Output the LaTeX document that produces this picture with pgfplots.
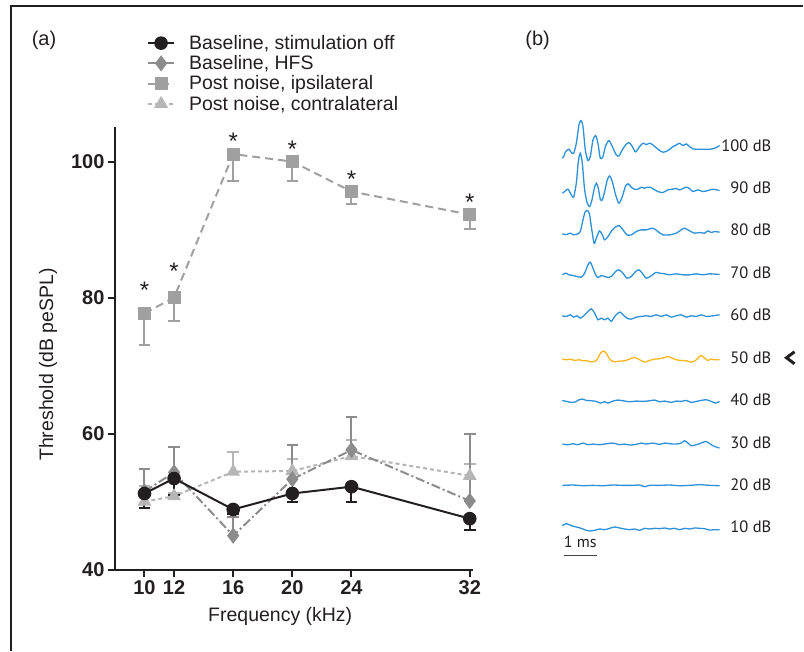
\documentclass[border=0pt]{standalone}
\usepackage{fontspec}
\setmainfont{Liberation Sans}
\newfontfamily\labfont{PT Sans}
\usepackage{pgfplots}
\usepackage{pgfplotstable}
\pgfplotsset{compat=1.18}

\definecolor{ink}{HTML}{231F20}
\definecolor{hfs}{HTML}{8C8C8C}
\definecolor{ipsi}{HTML}{A0A0A0}
\definecolor{contra}{HTML}{B6B6B6}
\definecolor{abr}{HTML}{2B91D9}
\definecolor{abrhi}{HTML}{F6B61E}

% (a) thresholds: frequency (kHz), threshold (dB peSPL), one-sided error
\pgfplotstableread{
f y e
10 51.2 2.2
12 53.4 2.4
16 48.85 0.6
20 51.2 1.2
24 52.2 2.2
32 47.5 1.6
}\baseoff
\pgfplotstableread{
f y e
10 51.5 3.3
12 54.3 3.7
16 45.0 2.8
20 53.3 5.0
24 57.6 4.8
32 50.1 9.9
}\basehfs
\pgfplotstableread{
f y e
10 77.7 4.7
12 80.0 3.4
16 101.1 3.9
20 100.0 2.9
24 95.6 1.8
32 92.2 2.1
}\postipsi
\pgfplotstableread{
f y e
10 50.0 2.3
12 50.8 0.5
16 54.4 2.9
20 54.5 1.7
24 56.7 2.3
32 53.8 1.8
}\postcontra
\pgfplotstableread{
f y
10 81.8
12 84.6
16 103.8
20 102.6
24 98.2
32 94.8
}\stars

% (b) ABR traces, read off in panel units (x right, y down)
\pgfplotstableread{
X Y
68 175
72 170
78 155
88 148
95 158
102 160
110 130
118 75
124 62
130 80
137 150
145 182
152 170
160 120
168 107
175 130
182 175
190 170
198 138
208 122
218 140
230 165
238 168
248 150
258 135
268 128
278 140
288 156
300 140
310 130
320 134
330 130
340 135
355 148
370 157
385 152
400 140
410 135
420 130
430 137
440 132
450 140
460 147
480 148
510 148
525 145
540 137
}\trA
\pgfplotstableread{
X Y
68 280
75 275
85 268
95 285
102 292
110 250
116 185
122 160
128 190
135 270
143 310
150 320
157 300
164 265
170 250
176 265
182 298
188 300
195 275
203 240
210 228
218 245
228 285
238 310
248 290
258 258
266 252
275 262
285 268
295 268
305 262
315 265
322 262
332 262
342 268
355 275
370 278
385 270
398 268
410 266
420 270
430 266
440 262
450 266
460 275
475 270
490 275
505 272
520 268
540 272
}\trB
\pgfplotstableread{
X Y
68 402
80 404
92 400
102 405
112 403
122 395
130 360
137 335
145 333
150 345
155 380
162 425
165 430
172 410
180 393
188 405
195 420
205 410
218 390
230 380
240 378
250 390
262 405
275 405
290 395
305 390
320 390
340 385
355 395
370 405
390 405
410 400
425 390
435 385
450 393
465 400
480 398
495 400
505 393
515 398
525 395
540 397
}\trC
\pgfplotstableread{
X Y
68 525
78 520
88 525
100 527
112 530
125 532
135 520
145 495
152 487
160 505
168 525
175 533
185 527
195 530
205 533
215 530
228 515
238 510
250 520
262 535
275 530
288 515
298 510
308 520
320 535
335 528
348 518
360 520
375 522
390 525
410 522
430 525
450 525
470 522
490 525
510 522
540 524
}\trD
\pgfplotstableread{
X Y
68 648
80 650
92 645
102 652
112 648
122 655
132 648
145 635
155 627
165 640
175 660
185 655
195 660
205 655
215 665
225 650
235 640
242 637
250 645
262 655
275 658
290 652
305 650
320 648
335 650
350 645
365 650
380 645
395 652
410 648
425 645
440 652
455 648
470 650
485 645
500 650
520 648
540 645
}\trE
\pgfplotstableread{
X Y
68 88
80 90
92 88
105 92
118 90
130 93
140 92
150 96
165 95
172 90
178 78
185 67
192 64
200 70
208 85
215 93
225 96
240 94
255 93
270 88
285 83
300 90
315 97
330 92
345 88
360 87
375 83
385 80
395 84
410 90
425 92
440 93
455 97
468 92
478 82
485 77
495 85
505 92
515 88
525 90
540 90
}\trF
\pgfplotstableread{
X Y
68 212
80 215
95 218
108 216
118 210
128 208
140 212
155 213
170 215
182 220
195 216
205 220
220 214
235 211
250 213
270 216
290 214
310 215
330 213
345 211
360 216
375 214
395 218
410 214
425 215
440 212
455 218
470 215
485 212
500 210
515 215
528 220
540 215
}\trG
\pgfplotstableread{
X Y
68 343
85 345
100 342
115 345
130 340
145 345
160 343
180 345
200 342
220 340
240 345
255 343
270 346
290 344
305 340
320 343
340 340
360 344
375 340
390 342
410 343
425 340
435 333
445 340
455 348
470 345
485 340
498 335
508 340
520 348
530 352
540 355
}\trH
\pgfplotstableread{
X Y
68 467
100 466
130 468
160 467
190 468
220 466
250 467
280 467
300 466
315 471
330 467
360 467
390 466
420 468
450 467
480 465
510 467
540 468
}\trI
\pgfplotstableread{
X Y
68 588
80 582
95 588
110 592
125 596
140 602
150 604
165 602
180 598
195 600
210 596
225 592
240 595
255 598
270 600
285 598
300 602
315 596
330 598
345 596
360 597
375 595
390 598
405 596
420 600
435 596
450 598
465 595
480 596
495 597
510 601
525 600
540 600
}\trJ

\pgfplotsset{
  trace/.style={line width=1.3pt, smooth, tension=0.45},
}

\begin{document}
\begin{tikzpicture}
\path (0pt,0pt) rectangle (804pt,651pt);
\draw[ink, line width=2pt] (803.5pt,644.5pt) -- (11pt,644.5pt) -- (11pt,0pt);

\node[ink, font=\fontsize{20}{24}\selectfont] at (44pt,611pt) {(a)};
\node[ink, font=\fontsize{20}{24}\selectfont] at (538pt,611pt) {(b)};

\begin{axis}[
  at={(115pt,81pt)}, anchor=south west,
  scale only axis, width=358pt, height=443pt,
  xmin=8, xmax=32.2, ymin=40, ymax=105.1,
  axis x line*=bottom, axis y line*=left,
  axis line style={ink, line width=2pt},
  xtick={10,12,16,20,24,32}, ytick={40,60,80,100},
  tick align=outside, major tick length=7pt,
  tick style={ink, line width=2pt},
  ticklabel style={font=\fontsize{20}{24}\selectfont\bfseries, text=ink},
  /pgf/number format/assume math mode=true,
  xlabel={Frequency (kHz)}, ylabel={Threshold (dB peSPL)},
  every axis x label/.style={at={(axis description cs:0.462,-0.106)}, anchor=center,
    font=\fontsize{19.5}{23}\selectfont, text=ink},
  every axis y label/.style={at={(axis description cs:-0.187,0.4636)}, anchor=center, rotate=90,
    font=\fontsize{19.5}{23}\selectfont, text=ink},
  clip=false,
  reverse legend,
  legend style={at={(axis description cs:0.0894,1.2073)}, anchor=north west,
    draw=none, fill=none, inner sep=0pt, row sep=4.6pt, column sep=14pt,
    font=\fontsize{19.5}{23}\selectfont, text=ink,
    nodes={inner sep=0pt}},
  legend cell align=left,
  legend image code/.code={\draw[mark repeat=2, mark phase=2, #1] plot coordinates {(0pt,0pt) (13pt,0pt) (26pt,0pt)};},
  error bars/error bar style={solid, line width=2pt},
  error bars/error mark options={solid, rotate=90, mark size=5.8pt, line width=2pt},
]
\addplot[contra, line width=2pt, dash pattern=on 4pt off 3pt,
  mark=triangle*, mark size=6pt, mark options={solid, fill=contra},
  error bars/.cd, y dir=plus, y explicit]
  table[x=f, y=y, y error=e] {\postcontra};
\addlegendentry{Post noise, contralateral}
\addplot[ipsi, line width=2pt, dash pattern=on 8pt off 5pt,
  mark=square*, mark size=5.5pt, mark options={solid, fill=ipsi},
  error bars/.cd, y dir=minus, y explicit]
  table[x=f, y=y, y error=e] {\postipsi};
\addlegendentry{Post noise, ipsilateral}
\addplot[hfs, line width=2pt, dash pattern=on 9pt off 3pt on 2pt off 3pt,
  mark=diamond*, mark size=6.5pt, mark options={solid, fill=hfs},
  error bars/.cd, y dir=plus, y explicit]
  table[x=f, y=y, y error=e] {\basehfs};
\addlegendentry{Baseline, HFS}
\addplot[ink, line width=2pt,
  mark=*, mark size=5.8pt, mark options={solid, fill=ink},
  error bars/.cd, y dir=minus, y explicit]
  table[x=f, y=y, y error=e] {\baseoff};
\addlegendentry{Baseline, stimulation off}
\addplot[forget plot, draw=none, mark=none, nodes near coords={*},
  every node near coord/.style={anchor=center, yshift=-5.3pt, inner sep=0pt,
    text=ink, font=\fontsize{24}{24}\selectfont}]
  table[x=f, y=y] {\stars};
\end{axis}

\begin{axis}[
  at={(540pt,551pt)}, anchor=north west,
  scale only axis, width=264pt, height=480pt,
  xmin=0, xmax=792, ymin=0, ymax=1440, y dir=reverse,
  hide axis, clip=false,
]
\addplot[abr, trace] table {\trA};
\addplot[abr, trace] table {\trB};
\addplot[abr, trace] table {\trC};
\addplot[abr, trace] table {\trD};
\addplot[abr, trace] table {\trE};
\addplot[abrhi, trace] table[y expr=\thisrowno{1}+690] {\trF};
\addplot[abr, trace] table[y expr=\thisrowno{1}+690] {\trG};
\addplot[abr, trace] table[y expr=\thisrowno{1}+690] {\trH};
\addplot[abr, trace] table[y expr=\thisrowno{1}+690] {\trI};
\addplot[abr, trace] table[y expr=\thisrowno{1}+690] {\trJ};
\end{axis}

\foreach \lab/\yy in {100/145.7, 90/188.3, 80/230, 70/273.3, 60/315,
                      50/358.3, 40/400, 30/443.3, 20/485, 10/527.3}
  \node[ink, anchor=east, inner sep=0pt, font=\labfont\fontsize{16.5}{18}\selectfont]
    at (772pt,{(651-\yy)*1pt}) {\lab\ dB};

\draw[ink!85, line width=1.5pt] (564pt,95pt) -- (597pt,95pt);
\node[ink, anchor=base west, inner sep=0pt, font=\labfont\fontsize{16}{18}\selectfont]
  at (564pt,102.7pt) {1 ms};
\draw[ink, line width=3pt] (795pt,299pt) -- (787pt,293pt) -- (795pt,287pt);
\end{tikzpicture}
\end{document}
